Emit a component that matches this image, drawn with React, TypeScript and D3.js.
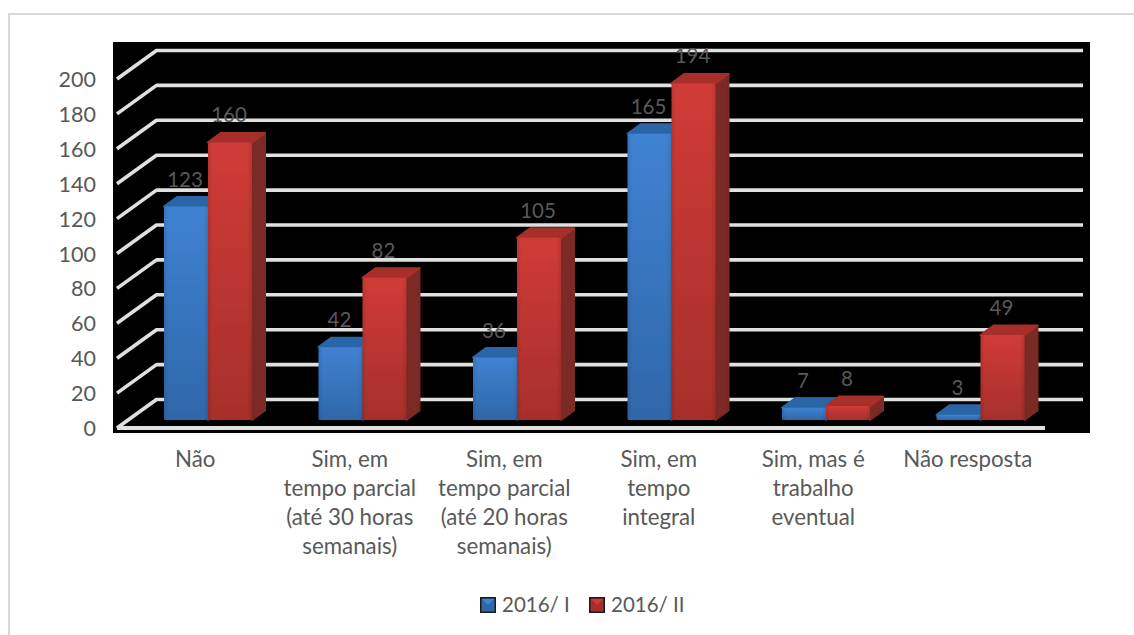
import React from "react";
import * as d3 from "d3";

const categories = [
  ["Não"],
  ["Sim, em", "tempo parcial", "(até 30 horas", "semanais)"],
  ["Sim, em", "tempo parcial", "(até 20 horas", "semanais)"],
  ["Sim, em", "tempo", "integral"],
  ["Sim, mas é", "trabalho", "eventual"],
  ["Não resposta"],
];
const seriesNames = ["2016/ I", "2016/ II"];
const series1 = [123, 42, 36, 165, 7, 3];
const series2 = [160, 82, 105, 194, 8, 49];
const yTicks = d3.range(0, 201, 20);

const FONT = "Lato, 'Open Sans', sans-serif";
const GREY = "#595959";
const colors = [
  { top: "#2b65a8", side: "#234f82", id: "blueFront", hi: "#3f82d2", lo: "#2f67aa" },
  { top: "#a82f2b", side: "#7c2925", id: "redFront", hi: "#d03b37", lo: "#a62f2b" },
];

export default function App() {
  const ids = categories.map((_, i) => String(i));
  const x0 = d3.scaleBand().domain(ids).range([118, 1045]);
  const x1 = d3.scaleBand().domain(["0", "1"]).range([0, 88]);
  // front plane of the axis, the back wall sits depth px up and right
  const yFront = d3.scaleLinear().domain([0, 200]).range([428, 79]);
  const yBar = d3.scaleLinear().domain([0, 200]).range([420, 73]);
  const wall = { dx: 39.5, dy: -28.5 };
  const bar = { dx: 13, dy: -9.5 };
  const barOffset = 46;

  const drawBar = (cat: number, s: number, v: number) => {
    const c = colors[s];
    const left = x0(String(cat))! + barOffset + x1(String(s))!;
    const w = x1.bandwidth();
    const top = yBar(v);
    const base = yBar(0);
    const poly = (pts: number[][], fill: string) => (
      <polygon
        points={pts.map((p) => p.join(",")).join(" ")}
        fill={fill}
        stroke={fill}
        strokeWidth={2}
        strokeLinejoin="round"
      />
    );
    return (
      <g key={`${cat}-${s}`}>
        {poly(
          [
            [left + w, top],
            [left + w + bar.dx, top + bar.dy],
            [left + w + bar.dx, base + bar.dy],
            [left + w, base],
          ],
          c.side
        )}
        {poly(
          [
            [left, top],
            [left + bar.dx, top + bar.dy],
            [left + w + bar.dx, top + bar.dy],
            [left + w, top],
          ],
          c.top
        )}
        <rect x={left} y={top} width={w} height={base - top} rx={1.5} fill={`url(#${c.id})`} />
        <rect x={left} y={top} width={w} height={base - top} rx={1.5} fill="url(#edge)" />
      </g>
    );
  };

  const valueLabel = (cat: number, s: number, v: number) => (
    <text
      key={`l${cat}-${s}`}
      x={x0(String(cat))! + barOffset + x1(String(s))! + x1.bandwidth() / 2 - 1}
      y={yBar(v) - 20}
      textAnchor="middle"
      fontSize={20.5}
      fill={GREY}
    >
      {v}
    </text>
  );

  return (
    <svg
      width={1134}
      height={635}
      style={{ position: "absolute", left: 0, top: 0, background: "#fff" }}
      fontFamily={FONT}
    >
      <defs>
        {colors.map((c) => (
          <linearGradient key={c.id} id={c.id} x1="0" y1="0" x2="0" y2="1">
            <stop offset="0" stopColor={c.hi} />
            <stop offset="1" stopColor={c.lo} />
          </linearGradient>
        ))}
        <linearGradient id="edge" x1="0" y1="0" x2="1" y2="0">
          <stop offset="0" stopColor="#000" stopOpacity={0.1} />
          <stop offset="0.1" stopColor="#000" stopOpacity={0} />
          <stop offset="0.9" stopColor="#000" stopOpacity={0} />
          <stop offset="1" stopColor="#000" stopOpacity={0.1} />
        </linearGradient>
        <filter id="soft" x="-2%" y="-2%" width="104%" height="104%">
          <feGaussianBlur stdDeviation={0.6} />
        </filter>
      </defs>

      {/* frame, open at the right and the bottom */}
      <path d="M1134,14 H9 V635" fill="none" stroke="#d9d9d9" strokeWidth={2} />

      <rect x={113} y={42} width={977} height={391} fill="#000" />

      <g filter="url(#soft)">
        {yTicks.map((t) => {
          const fy = yFront(t);
          return (
            <path
              key={t}
              d={`M117,${fy} L${117 + wall.dx},${fy + wall.dy} H1083`}
              fill="none"
              stroke="#e0e0e0"
              strokeWidth={3.6}
              strokeLinejoin="round"
            />
          );
        })}
        <line x1={117} x2={1045} y1={yFront(0)} y2={yFront(0)} stroke="#e0e0e0" strokeWidth={4} />
        {categories.map((_, i) => (
          <g key={i}>
            {drawBar(i, 0, series1[i])}
            {drawBar(i, 1, series2[i])}
          </g>
        ))}
      </g>

      {categories.map((_, i) => valueLabel(i, 0, series1[i]))}
      {categories.map((_, i) => valueLabel(i, 1, series2[i]))}

      {yTicks.map((t) => (
        <text
          key={t}
          x={96}
          y={yFront(t) + 8}
          textAnchor="end"
          fontSize={21.5}
          fill={GREY}
        >
          {t}
        </text>
      ))}

      {categories.map((lines, i) => (
        <text
          key={i}
          textAnchor="middle"
          fontSize={22.3}
          fill={GREY}
          x={x0(String(i))! + x0.bandwidth() / 2}
          y={467}
        >
          {lines.map((l, j) => (
            <tspan key={j} x={x0(String(i))! + x0.bandwidth() / 2} y={467 + j * 29}>
              {l}
            </tspan>
          ))}
        </text>
      ))}

      {seriesNames.map((name, s) => {
        const lx = [480, 589][s];
        const c = colors[s];
        return (
          <g key={name}>
            <rect x={lx} y={597} width={16} height={16} fill="#1a1a1a" />
            <rect x={lx + 1.5} y={598.5} width={13} height={13} fill={c.lo} />
            <polygon
              points={`${lx + 2},${599} ${lx + 14},${599} ${lx + 8},${605}`}
              fill={c.hi}
            />
            <text x={lx + 22} y={612} fontSize={20.5} fill={GREY}>
              {name}
            </text>
          </g>
        );
      })}
    </svg>
  );
}
